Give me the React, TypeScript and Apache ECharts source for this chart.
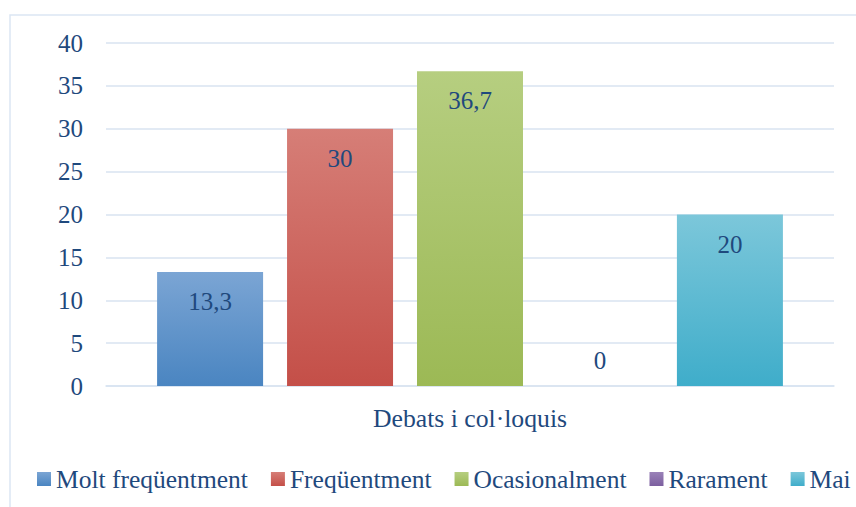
import React, { useEffect, useRef } from "react";
import * as echarts from "echarts";

const categories = ["Debats i col·loquis"];
const seriesNames = ["Molt freqüentment", "Freqüentment", "Ocasionalment", "Rarament", "Mai"];
const seriesValues = [13.3, 30, 36.7, 0, 20];
const colorTop = ["#7ba5d4", "#d67e77", "#b6ce80", "#9a82b8", "#7cc7da"];
const colorBottom = ["#4a85c1", "#c44f48", "#9cb955", "#7c5f9f", "#3fadca"];

const FONT = "'Liberation Serif', 'Times New Roman', serif";
const TEXT = "#1F497D";
const GRID = "#d8e3f1";

export default function App() {
  const ref = useRef<HTMLDivElement>(null);
  useEffect(() => {
    if (!ref.current) return;
    const chart = echarts.init(ref.current, undefined, { renderer: "svg" });
    const series = seriesNames.map((name, i) => ({
      name,
      type: "bar",
      barWidth: 106,
      barGap: "22.6%",
      itemStyle: {
        color: new echarts.graphic.LinearGradient(0, 0, 0, 1, [
          { offset: 0, color: colorTop[i] },
          { offset: 1, color: colorBottom[i] },
        ]),
      },
      label: {
        show: true,
        position: "insideTop",
        distance: 17,
        color: TEXT,
        fontFamily: FONT,
        fontSize: 25,
        formatter: (p: any) => String(p.value).replace(".", ","),
      },
      data: [
        seriesValues[i] === 0
          ? { value: seriesValues[i], label: { position: "top", distance: 13 } }
          : seriesValues[i],
      ],
    }));
    chart.setOption({
      animation: false,
      backgroundColor: "#ffffff",
      textStyle: { fontFamily: FONT },
      graphic: [
        {
          type: "rect",
          shape: { x: 10, y: 15, width: 2000, height: 2000 },
          style: { fill: "none", stroke: "#dbe6f3", lineWidth: 1.5 },
          silent: true,
        },
      ],
      grid: { left: 106, top: 43, width: 728, height: 343, containLabel: false },
      legend: {
        left: 32,
        top: 461,
        itemWidth: 14,
        itemHeight: 14,
        itemGap: 23,
        icon: "rect",
        textStyle: { color: TEXT, fontFamily: FONT, fontSize: 25.5 },
        data: seriesNames,
      },
      xAxis: {
        type: "category",
        data: categories,
        axisTick: { show: false },
        axisLine: { lineStyle: { color: GRID, width: 1.5 } },
        axisLabel: { color: TEXT, fontFamily: FONT, fontSize: 25.7, margin: 19 },
      },
      yAxis: {
        type: "value",
        min: 0,
        max: 40,
        interval: 5,
        axisLine: { show: false },
        axisTick: { show: false },
        splitLine: { lineStyle: { color: GRID, width: 1.5 } },
        axisLabel: { color: TEXT, fontFamily: FONT, fontSize: 25, margin: 23 },
      },
      series,
    });
    return () => chart.dispose();
  }, []);
  return (
    <div
      style={{
        position: "absolute",
        left: 0,
        top: 0,
        width: 856,
        height: 507,
        overflow: "hidden",
        background: "#fff",
      }}
    >
      <div ref={ref} style={{ width: 920, height: 560 }} />
    </div>
  );
}
